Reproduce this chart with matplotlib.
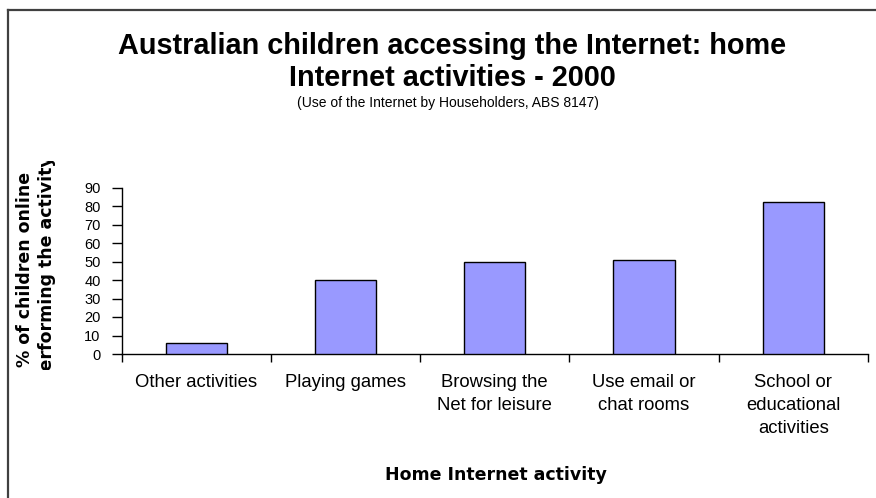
import matplotlib
matplotlib.use("Agg")
import matplotlib.pyplot as plt
from matplotlib.lines import Line2D
from matplotlib.transforms import Bbox, TransformedBbox

categories = ["Other activities", "Playing games", "Browsing the\nNet for leisure",
              "Use email or\nchat rooms", "School or\neducational\nactivities"]
values = [6, 40, 50, 51, 82]
yticks = [0, 10, 20, 30, 40, 50, 60, 70, 80, 90]

title = "Australian children accessing the Internet: home\nInternet activities - 2000"
subtitle = "(Use of the Internet by Householders, ABS 8147)"
ylabel_lines = ["% of children online", "performing the activity"]
xlabel = "Home Internet activity"

W, H = 876, 498
fig = plt.figure(figsize=(W / 100, H / 100), dpi=100)
fig.patch.set_facecolor("white")

def fx(px):
    return px / W

def fy(py):
    return 1 - py / H

ax = fig.add_axes([fx(121.5), fy(354), fx(868) - fx(121.5), fy(187.5) - fy(354)])
x = list(range(len(categories)))
ax.bar(x, values, width=0.41, color="#9999FF", edgecolor="black", linewidth=1.0, zorder=3)
ax.set_xlim(-0.5, len(categories) - 0.5)
ax.set_ylim(0, 90)
ax.set_yticks(yticks)
ax.set_yticklabels([str(t) for t in yticks], fontsize=10.5, family="Liberation Sans")
ax.set_xticks([i - 0.5 for i in range(len(categories) + 1)], minor=False)
ax.set_xticklabels([])
ax.tick_params(axis="y", direction="out", length=7, width=1, pad=8, colors="black")
ax.tick_params(axis="x", direction="out", length=6, width=1)
for s in ["top", "right"]:
    ax.spines[s].set_visible(False)
for s in ["left", "bottom"]:
    ax.spines[s].set_linewidth(1)
    ax.spines[s].set_color("black")
ax.set_facecolor("white")

# category labels
for i, lab in enumerate(categories):
    ax.text(i, -0.12, lab, transform=ax.get_xaxis_transform(), ha="center", va="top",
            fontsize=13.3, family="Liberation Sans", linespacing=1.45)

# titles
fig.text(fx(452), fy(62), title, ha="center", va="center", fontsize=20.8,
         fontweight="bold", family="Liberation Sans", linespacing=1.2)
fig.text(fx(448), fy(103), subtitle, ha="center", va="center", fontsize=10,
         family="Liberation Sans")

# y label (clipped)
clip = TransformedBbox(Bbox([[0, fy(370)], [1, fy(161)]]), fig.transFigure)
for xc, line in zip([25.5, 47.5], ylabel_lines):
    t = fig.text(fx(xc), fy(269), line, rotation=90, ha="center", va="center",
                 fontsize=12.5, fontweight="bold", family="DejaVu Sans")
    t.set_clip_box(clip)
    t.set_clip_on(True)

fig.text(fx(496), fy(475), xlabel, ha="center", va="center", fontsize=12.5,
         fontweight="bold", family="DejaVu Sans")

# outer border
fig.add_artist(Line2D([fx(8), fx(8)], [0, fy(10)], transform=fig.transFigure,
                      color="#404040", linewidth=1.6))
fig.add_artist(Line2D([fx(8), 1], [fy(10), fy(10)], transform=fig.transFigure,
                      color="#404040", linewidth=1.6))

fig.savefig("out.png", dpi=100)
